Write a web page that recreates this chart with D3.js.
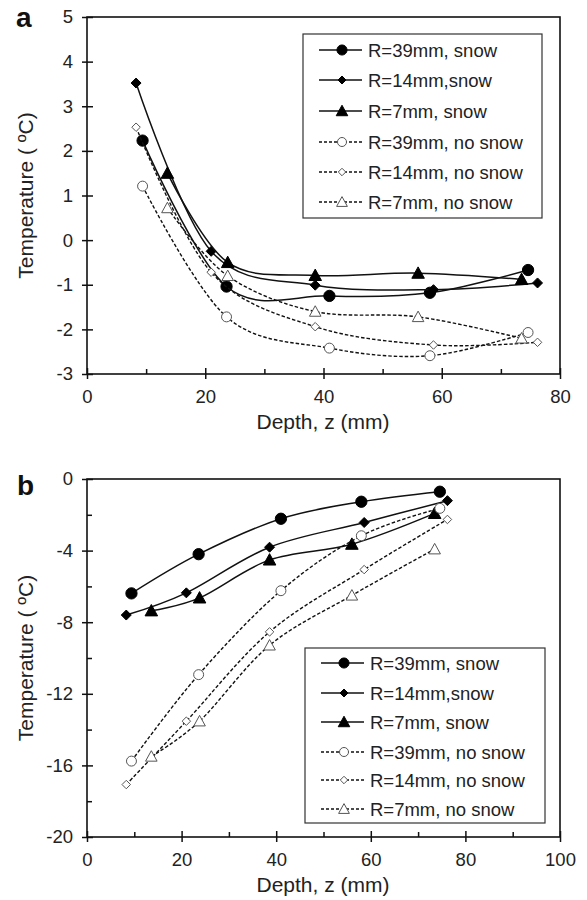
<!DOCTYPE html>
<html>
<head>
<meta charset="utf-8">
<script src="https://cdn.jsdelivr.net/npm/d3@7"></script>
<style>
  html, body { margin: 0; padding: 0; background: #fff; }
  svg { display: block; font-family: "Liberation Sans", Arial, sans-serif; }
</style>
</head>
<body>
<svg id="chart" width="587" height="900"></svg>
<script>
// Depths (mm) of the thermocouples for each cylinder radius
const depth39 = [9.4, 23.6, 41.0, 58.0, 74.6];
const depth14 = [8.3, 21.0, 38.6, 58.6, 76.2];
const depth7  = [13.6, 23.8, 38.6, 56.0, 73.5];

// Panel a temperatures (°C)
const aSnow39   = [2.23, -1.04, -1.25, -1.18, -0.67];
const aSnow14   = [3.52, -0.25, -1.01, -1.11, -0.96];
const aSnow7    = [1.5, -0.5, -0.79, -0.74, -0.88];
const aNoSnow39 = [1.21, -1.72, -2.42, -2.59, -2.07];
const aNoSnow14 = [2.53, -0.72, -1.94, -2.35, -2.29];
const aNoSnow7  = [0.72, -0.8, -1.6, -1.72, -2.2];

// Panel b temperatures (°C)
const bSnow39   = [-6.39, -4.2, -2.22, -1.27, -0.71];
const bSnow14   = [-7.6, -6.36, -3.81, -2.43, -1.21];
const bSnow7    = [-7.36, -6.64, -4.52, -3.64, -1.92];
const bNoSnow39 = [-15.76, -10.93, -6.24, -3.17, -1.64];
const bNoSnow14 = [-17.07, -13.53, -8.54, -5.06, -2.26];
const bNoSnow7  = [-15.5, -13.53, -9.29, -6.5, -3.92];

const seriesNames = ["R=39mm, snow", "R=14mm,snow", "R=7mm, snow",
                     "R=39mm, no snow", "R=14mm, no snow", "R=7mm, no snow"];
const seriesDepths = [depth39, depth14, depth7, depth39, depth14, depth7];

// Axis ticks
const aYTicks = [-3, -2, -1, 0, 1, 2, 3, 4, 5];
const aXTicks = [0, 20, 40, 60, 80];
const aXMinor = [10, 30, 50, 70];
const bYTicks = [-20, -16, -12, -8, -4, 0];
const bYMinor = [-18, -14, -10, -6, -2];
const bXTicks = [0, 20, 40, 60, 80, 100];
const bXMinor = [10, 30, 50, 70, 90];

// Marker shapes
const diamondSym = { draw(ctx, size) { const r = Math.sqrt(size) / 2; ctx.moveTo(0, -r); ctx.lineTo(r, 0); ctx.lineTo(0, r); ctx.lineTo(-r, 0); ctx.closePath(); } };
const triangleSym = { draw(ctx, size) { const s = Math.sqrt(size); ctx.moveTo(0, -s * 0.55); ctx.lineTo(s * 0.55, s * 0.45); ctx.lineTo(-s * 0.55, s * 0.45); ctx.closePath(); } };
const styles = [
  { type: d3.symbolCircle, size: 100, filled: true, dashed: false, lsize: 80 },
  { type: diamondSym, size: 100, filled: true, dashed: false, lsize: 64 },
  { type: triangleSym, size: 130, filled: true, dashed: false, lsize: 110 },
  { type: d3.symbolCircle, size: 78, filled: false, dashed: true, lsize: 64 },
  { type: diamondSym, size: 72, filled: false, dashed: true, lsize: 56 },
  { type: triangleSym, size: 110, filled: false, dashed: true, lsize: 96 }
];

const svg = d3.select("#chart");

function drawPanel(cfg) {
  const g = svg.append("g");
  const x = d3.scaleLinear().domain(cfg.xDomain).range([87, 560]);
  const y = d3.scaleLinear().domain(cfg.yDomain).range([cfg.bottom, cfg.top]);

  // Frame
  g.append("rect").attr("x", 87).attr("y", cfg.top)
    .attr("width", 473).attr("height", cfg.bottom - cfg.top)
    .attr("fill", "none").attr("stroke", "#111").attr("stroke-width", 1.6);

  // Y axis
  const ya = g.append("g").attr("transform", "translate(87,0)")
    .call(d3.axisLeft(y).tickValues(cfg.yTicks).tickSize(5).tickPadding(9).tickFormat(d => String(d)));
  ya.select(".domain").remove();
  ya.selectAll(".tick line").attr("x1", 6).attr("x2", -5).attr("stroke", "#111").attr("stroke-width", 1.5);
  ya.selectAll("text").attr("font-size", 18.5).attr("fill", "#222").attr("font-family", "Liberation Sans, Arial, sans-serif");
  if (cfg.yMinor) {
    g.append("g").attr("transform", "translate(87,0)")
      .call(d3.axisRight(y).tickValues(cfg.yMinor).tickSize(5).tickFormat(""))
      .call(s => s.select(".domain").remove())
      .selectAll("line").attr("stroke", "#111").attr("stroke-width", 1.5);
  }

  // X axis
  const xa = g.append("g").attr("transform", `translate(0,${cfg.bottom})`)
    .call(d3.axisBottom(x).tickValues(cfg.xTicks).tickSize(5).tickPadding(11).tickFormat(d => String(d)));
  xa.select(".domain").remove();
  xa.selectAll(".tick line").attr("y1", -6).attr("y2", 5).attr("stroke", "#111").attr("stroke-width", 1.5);
  xa.selectAll("text").attr("font-size", 18.5).attr("fill", "#222").attr("font-family", "Liberation Sans, Arial, sans-serif");
  g.append("g").attr("transform", `translate(0,${cfg.bottom})`)
    .call(d3.axisTop(x).tickValues(cfg.xMinor).tickSize(5).tickFormat(""))
    .call(s => s.select(".domain").remove())
    .selectAll("line").attr("stroke", "#111").attr("stroke-width", 1.5);

  // Axis titles
  g.append("text").attr("x", 323).attr("y", cfg.bottom + 55)
    .attr("text-anchor", "middle").attr("font-size", 21).attr("fill", "#222")
    .text("Depth, z (mm)");
  const cy = (cfg.top + cfg.bottom) / 2;
  g.append("text").attr("transform", `translate(33,${cy}) rotate(-90)`)
    .attr("text-anchor", "middle").attr("font-size", 21).attr("fill", "#222")
    .text("Temperature ( ºC)");

  // Panel letter
  g.append("text").attr("x", cfg.letterX).attr("y", cfg.letterY)
    .attr("font-size", 28).attr("font-weight", "bold").attr("fill", "#111")
    .text(cfg.letter);

  // Series
  const line = d3.line().x(d => x(d[0])).y(d => y(d[1])).curve(d3.curveCardinal.tension(0));
  cfg.series.forEach((vals, i) => {
    const st = styles[i];
    const pts = seriesDepths[i].map((d, k) => [d, vals[k]]);
    g.append("path").datum(pts).attr("d", line)
      .attr("fill", "none").attr("stroke", "#111")
      .attr("stroke-width", st.dashed ? 1.4 : 1.5)
      .attr("stroke-dasharray", st.dashed ? "3.5,2" : null);
    g.selectAll(null).data(pts).join("path")
      .attr("transform", d => `translate(${x(d[0])},${y(d[1])})`)
      .attr("d", d3.symbol().type(st.type).size(st.size))
      .attr("fill", st.filled ? "#000" : "#fff")
      .attr("stroke", st.filled ? "#000" : "#555")
      .attr("stroke-width", 1);
  });

  // Legend
  const L = cfg.legend;
  g.append("rect").attr("x", L.x).attr("y", L.y).attr("width", L.w).attr("height", L.h)
    .attr("fill", "#fff").attr("stroke", "#333").attr("stroke-width", 1.2);
  seriesNames.forEach((name, i) => {
    const st = styles[i];
    const ry = L.rows[i];
    g.append("line").attr("x1", L.x + 16).attr("x2", L.x + 59).attr("y1", ry).attr("y2", ry)
      .attr("stroke", "#111").attr("stroke-width", st.dashed ? 1.3 : 1.5)
      .attr("stroke-dasharray", st.dashed ? "3,2" : null);
    g.append("path").attr("transform", `translate(${L.x + 39},${ry})`)
      .attr("d", d3.symbol().type(st.type).size(st.lsize))
      .attr("fill", st.filled ? "#000" : "#fff")
      .attr("stroke", st.filled ? "#000" : "#555").attr("stroke-width", 1);
    g.append("text").attr("x", L.x + 65).attr("y", ry).attr("dy", "0.36em")
      .attr("font-size", 18.5).attr("fill", "#222").text(name);
  });
}

drawPanel({
  letter: "a", letterX: 16, letterY: 27,
  top: 17, bottom: 374,
  xDomain: [0, 80], yDomain: [-3, 5],
  xTicks: aXTicks, xMinor: aXMinor, yTicks: aYTicks, yMinor: null,
  series: [aSnow39, aSnow14, aSnow7, aNoSnow39, aNoSnow14, aNoSnow7],
  legend: { x: 303, y: 34, w: 239, h: 184, rows: [50, 80, 111, 142, 172, 202] }
});

drawPanel({
  letter: "b", letterX: 17, letterY: 495,
  top: 479, bottom: 837,
  xDomain: [0, 100], yDomain: [-20, 0],
  xTicks: bXTicks, xMinor: bXMinor, yTicks: bYTicks, yMinor: bYMinor,
  series: [bSnow39, bSnow14, bSnow7, bNoSnow39, bNoSnow14, bNoSnow7],
  legend: { x: 305, y: 648, w: 240, h: 175, rows: [663, 693, 722, 752, 780, 809] }
});
</script>
</body>
</html>
